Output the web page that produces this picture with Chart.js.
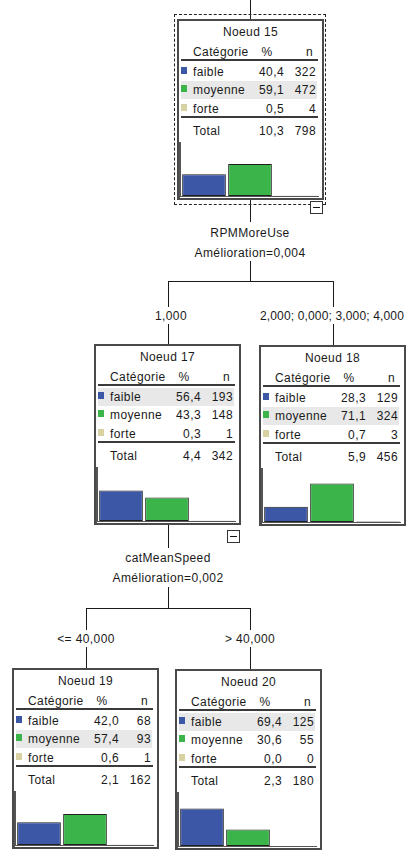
<!DOCTYPE html>
<html>
<head>
<meta charset="utf-8">
<script src="https://cdn.jsdelivr.net/npm/chart.js@4/dist/chart.umd.min.js"></script>
<style>
    html, body { margin: 0; padding: 0; background: #fff; }
    body { width: 406px; height: 851px; position: relative; overflow: hidden; font-family: "Liberation Sans", Arial, sans-serif; font-size: 12px; letter-spacing: 0.4px; color: #1a1a1a; }
    .abs { position: absolute; }
    .line { position: absolute; background: #1a1a1a; }
    .node { position: absolute; width: 147px; height: 181px; background: #fff; }
    .frame { position: absolute; left: 0; top: 0; right: 0; bottom: 0; border: 2px solid #4a4a4a; box-sizing: border-box; }
    .txt { position: absolute; line-height: 14px; white-space: nowrap; }
    .rule { position: absolute; left: 4px; width: 137px; height: 2px; background: #3a3a3a; }
    .hl { position: absolute; left: 4px; width: 136px; height: 18px; background: #e8e8e8; }
    .sq { position: absolute; left: 4px; width: 6px; height: 7px; }
    .plot { position: absolute; left: 2px; top: 123px; width: 140px; height: 57px; border-left: 2px solid #555; border-bottom: 3px double #555; box-sizing: border-box; }
    .plot div { position: absolute; left: 0; top: 0; width: 138px; height: 54px; }
    .split { position: absolute; line-height: 14px; white-space: nowrap; transform: translateX(-50%); }
    .toggle { position: absolute; width: 11px; height: 11px; border: 1px solid #333; background: #fff; }
    .toggle::after { content: ""; position: absolute; left: 2px; top: 5px; width: 7px; height: 1px; background: #111; }
</style>
</head>
<body>
<script>
// node content
const categories = ['faible', 'moyenne', 'forte'];
const categoryColors = ['#3d57a7', '#3bb44a', '#d8d2a3'];
const nodeIds = [15, 17, 18, 19, 20];
const nodePct = [
    [40.4, 59.1, 0.5],
    [56.4, 43.3, 0.3],
    [28.3, 71.1, 0.7],
    [42.0, 57.4, 0.6],
    [69.4, 30.6, 0.0]
];
const nodeN = [
    [322, 472, 4],
    [193, 148, 1],
    [129, 324, 3],
    [68, 93, 1],
    [125, 55, 0]
];
const totalPct = [10.3, 4.4, 5.9, 2.1, 2.3];
const totalN = [798, 342, 456, 162, 180];

// split texts
const splitVars = ['RPMMoreUse', 'catMeanSpeed'];
const splitGain = ['Amélioration=0,004', 'Amélioration=0,002'];
const branchLabels = [['1,000', '2,000; 0,000; 3,000; 4,000'], ['<= 40,000', '> 40,000']];

// where each node box sits on the page
const nodeLeft = [177, 94, 259, 12, 175];
const nodeTop = [19, 344, 345, 668, 669];

const fmt = v => v.toFixed(1).replace('.', ',');

function addEl(parent, cls, css, text) {
    const el = document.createElement('div');
    el.className = cls;
    Object.assign(el.style, css);
    if (text !== undefined) el.textContent = text;
    parent.appendChild(el);
    return el;
}

function vline(x, y1, y2) { addEl(document.body, 'line', { left: x + 'px', top: y1 + 'px', width: '1px', height: (y2 - y1) + 'px' }); }
function hline(y, x1, x2) { addEl(document.body, 'line', { left: x1 + 'px', top: y + 'px', width: (x2 - x1 + 1) + 'px', height: '1px' }); }

// connectors
vline(250, 0, 19);
vline(250, 199, 222);
vline(250, 261, 281);
hline(281, 168, 333);
vline(168, 281, 307); vline(333, 281, 307);
vline(168, 324, 344); vline(333, 324, 345);
vline(168, 525, 548);
vline(168, 587, 608);
hline(608, 86, 250);
vline(86, 608, 630); vline(250, 608, 630);
vline(86, 647, 668); vline(250, 647, 669);

// split labels
addEl(document.body, 'split', { left: '250px', top: '226px' }, splitVars[0]);
addEl(document.body, 'split', { left: '250px', top: '246px' }, splitGain[0]);
addEl(document.body, 'split', { left: '171px', top: '309px' }, branchLabels[0][0]);
// long label hugs the right edge, as in the original
addEl(document.body, 'split', { right: '2px', top: '309px', transform: 'none', letterSpacing: '0.15px' }, branchLabels[0][1]);
addEl(document.body, 'split', { left: '168px', top: '551px' }, splitVars[1]);
addEl(document.body, 'split', { left: '168px', top: '571px' }, splitGain[1]);
addEl(document.body, 'split', { left: '86px', top: '632px' }, branchLabels[1][0]);
addEl(document.body, 'split', { left: '250px', top: '632px' }, branchLabels[1][1]);

// selected node outline
addEl(document.body, 'abs', { left: '174px', top: '14px', width: '152px', height: '191px', border: '1px dashed #222', boxSizing: 'border-box' });

const rowY = [52.5, 71, 89.7];

nodeIds.forEach((id, i) => {
    const node = addEl(document.body, 'node', { left: nodeLeft[i] + 'px', top: nodeTop[i] + 'px' });
    const pct = nodePct[i];
    const best = pct.indexOf(Math.max(...pct));

    addEl(node, 'hl', { top: (rowY[best] - 9) + 'px' });
    addEl(node, 'txt', { left: '0', width: '147px', textAlign: 'center', top: '5.5px' }, 'Noeud ' + id);
    addEl(node, 'txt', { left: '16px', top: '25.5px' }, 'Catégorie');
    addEl(node, 'txt', { left: '80px', width: '20px', textAlign: 'center', top: '25.5px' }, '%');
    addEl(node, 'txt', { right: '11px', top: '25.5px' }, 'n');
    addEl(node, 'rule', { top: '39.5px' });

    categories.forEach((cat, k) => {
        addEl(node, 'sq', { top: (rowY[k] - 5) + 'px', background: categoryColors[k] });
        addEl(node, 'txt', { left: '16px', top: (rowY[k] - 7) + 'px' }, cat);
        addEl(node, 'txt', { right: '40px', top: (rowY[k] - 7) + 'px' }, fmt(pct[k]));
        addEl(node, 'txt', { right: '8px', top: (rowY[k] - 7) + 'px' }, String(nodeN[i][k]));
    });

    addEl(node, 'rule', { top: '97px' });
    addEl(node, 'txt', { left: '16px', top: '104.5px' }, 'Total');
    addEl(node, 'txt', { right: '40px', top: '104.5px' }, fmt(totalPct[i]));
    addEl(node, 'txt', { right: '8px', top: '104.5px' }, String(totalN[i]));

    const plot = addEl(node, 'plot', {});
    const holder = addEl(plot, '', {});
    const canvas = document.createElement('canvas');
    holder.appendChild(canvas);

    new Chart(canvas.getContext('2d'), {
        type: 'bar',
        data: {
            labels: categories,
            datasets: [{
                data: pct,
                backgroundColor: categoryColors,
                borderColor: '#1f1f1f',
                borderWidth: 1,
                borderSkipped: false,
                barPercentage: 0.95,
                categoryPercentage: 1
            }]
        },
        options: {
            responsive: true,
            maintainAspectRatio: false,
            animation: false,
            events: [],
            layout: { padding: 0 },
            plugins: { legend: { display: false }, tooltip: { enabled: false } },
            scales: {
                x: { display: false },
                y: { display: false, min: 0, max: 100 }
            }
        }
    });

    addEl(node, 'frame', {});
});

// collapse buttons on the split nodes
addEl(document.body, 'toggle', { left: '310px', top: '201px' });
addEl(document.body, 'toggle', { left: '227px', top: '530px' });
</script>
</body>
</html>
